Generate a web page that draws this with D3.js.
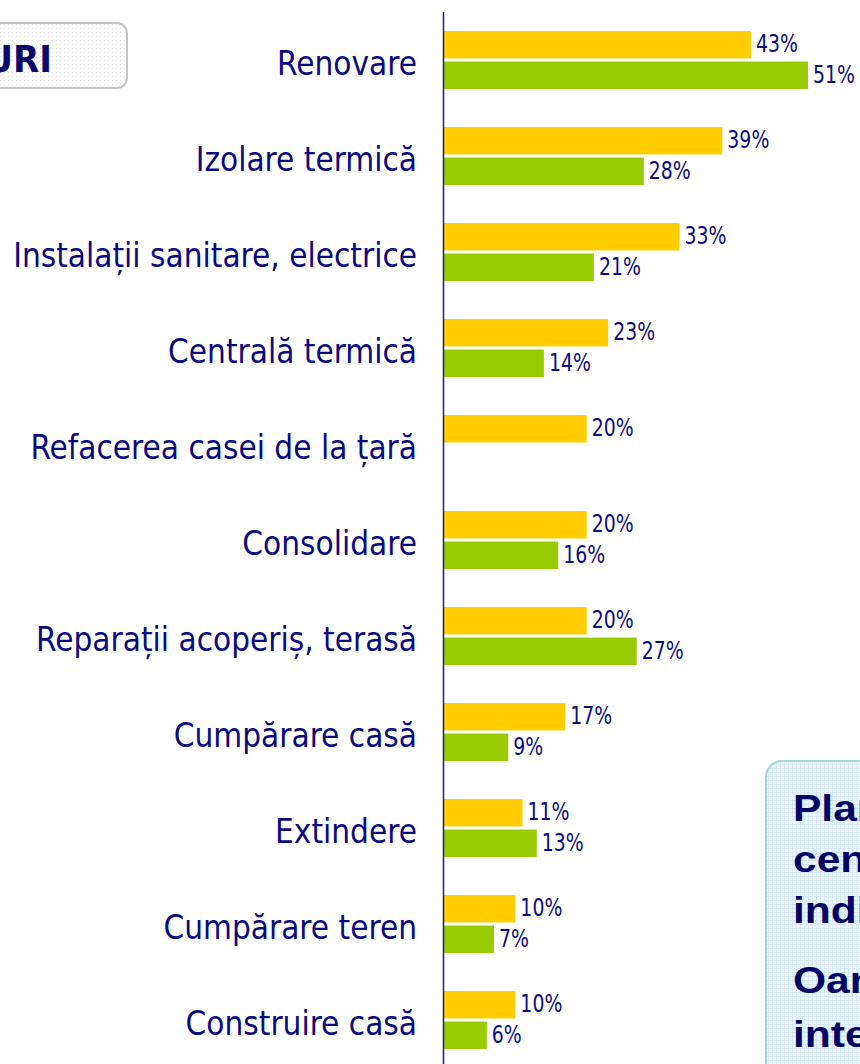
<!DOCTYPE html>
<meta charset="utf-8">
<style>
  body { margin: 0; background: #fff; overflow: hidden; }
  .cat { font-family: "DejaVu Sans Condensed", "DejaVu Sans", sans-serif; font-size: 33px; fill: #0a0a80; }
  .val { font-family: "DejaVu Sans Condensed", "DejaVu Sans", sans-serif; font-size: 25px; fill: #0a0a80; }
  .note { font-family: "Liberation Sans", Arial, sans-serif; font-weight: bold; font-size: 37px; fill: #050566; }
  .tag { font-family: "DejaVu Sans Condensed", "DejaVu Sans", sans-serif; font-weight: bold; font-size: 38px; fill: #0a0a6e; }
</style>
<script src="https://cdn.jsdelivr.net/npm/d3@7"></script>
<svg id="chart"></svg>
<script>
  // categories, top to bottom
  var categories = [
    "Renovare", "Izolare termică", "Instalații sanitare, electrice",
    "Centrală termică", "Refacerea casei de la țară", "Consolidare",
    "Reparații acoperiș, terasă", "Cumpărare casă", "Extindere",
    "Cumpărare teren", "Construire casă"
  ];
  // yellow series (top bar in each pair)
  var seriesA = [43, 39, 33, 23, 20, 20, 20, 17, 11, 10, 10];
  // green series (bottom bar), missing for "Refacerea casei de la țară"
  var seriesB = [51, 28, 21, 14, null, 16, 27, 9, 13, 7, 6];
  var seriesKeys = ["a", "b"];
  var seriesColors = { a: "#ffcc00", b: "#99cc00" };

  var noteLines = ["Plan", "cen", "indi", "Oar", "inte"];

  var width = 860, height = 1064;
  var svg = d3.select("#chart").attr("width", width).attr("height", height);

  var defs = svg.append("defs");
  // faint grid texture of the note box
  var grid = defs.append("pattern").attr("id", "grid")
    .attr("width", 4).attr("height", 4).attr("patternUnits", "userSpaceOnUse");
  grid.append("rect").attr("width", 4).attr("height", 4).attr("fill", "#eef6fd");
  grid.append("path").attr("d", "M0,0.5H4M0.5,0V4").attr("stroke", "#d6e7f5").attr("stroke-width", 1);
  // dotted texture of the tag box
  var dots = defs.append("pattern").attr("id", "dots")
    .attr("width", 4).attr("height", 4).attr("patternUnits", "userSpaceOnUse");
  dots.append("rect").attr("width", 4).attr("height", 4).attr("fill", "#fdfdfd");
  dots.append("rect").attr("width", 1).attr("height", 1).attr("fill", "#e2e2e2");

  var y = d3.scaleBand().domain(categories).range([15, 15 + 96 * categories.length]);
  var yInner = d3.scaleBand().domain(seriesKeys).range([16, 74]).paddingInner(0.1);
  var x = d3.scaleLinear().domain([0, 51]).range([444, 808]);

  var rows = categories.map(function(c, i) {
    return { cat: c, values: [{ key: "a", v: seriesA[i] }, { key: "b", v: seriesB[i] }] };
  });

  // tag box top left
  svg.append("rect").attr("x", -20).attr("y", 23).attr("width", 147).attr("height", 65)
    .attr("rx", 10).attr("fill", "url(#dots)").attr("stroke", "#c4c4c4").attr("stroke-width", 2);
  svg.append("text").attr("class", "tag").attr("x", 52).attr("y", 72)
    .attr("text-anchor", "end").text("URI");

  // category labels
  svg.append("g").selectAll("text").data(categories).join("text")
    .attr("class", "cat")
    .attr("x", 417)
    .attr("y", function(d) { return y(d) + 48; })
    .attr("dy", "0.36em")
    .attr("text-anchor", "end")
    .text(function(d) { return d; });

  var groups = svg.append("g").selectAll("g").data(rows).join("g")
    .attr("transform", function(d) { return "translate(0," + y(d.cat) + ")"; });

  var bars = groups.selectAll("g").data(function(d) {
      return d.values.filter(function(v) { return v.v != null; });
    }).join("g");

  bars.append("rect")
    .attr("x", x(0))
    .attr("y", function(d) { return yInner(d.key); })
    .attr("width", function(d) { return x(d.v) - x(0); })
    .attr("height", yInner.bandwidth())
    .attr("fill", function(d) { return seriesColors[d.key]; });

  // value labels are narrow and tall in the original
  bars.append("text")
    .attr("class", "val")
    .attr("transform", function(d) {
      return "translate(" + (x(d.v) + 5) + "," + (yInner(d.key) + 21) + ") scale(0.84,1)";
    })
    .text(function(d) { return d.v + "%"; });

  // vertical axis line
  svg.append("line").attr("x1", 443.5).attr("x2", 443.5).attr("y1", 12).attr("y2", height)
    .attr("stroke", "#1a1a80").attr("stroke-width", 1.5);

  // note box bottom right
  svg.append("rect").attr("x", 766).attr("y", 761).attr("width", 140).attr("height", 340)
    .attr("rx", 16).attr("fill", "url(#grid)").attr("stroke", "#a6d6da").attr("stroke-width", 2);
  var noteY = [821, 872, 923, 993, 1047];
  svg.append("g").selectAll("text").data(noteLines).join("text")
    .attr("class", "note")
    .attr("transform", function(d, i) { return "translate(793," + noteY[i] + ") scale(1.15,1)"; })
    .text(function(d) { return d; });
</script>
